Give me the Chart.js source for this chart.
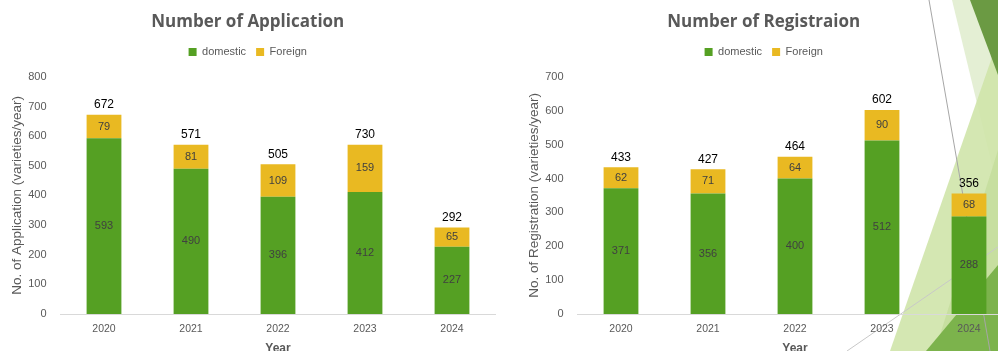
<!DOCTYPE html>
<html>
<head>
<meta charset="utf-8">
<script src="https://cdn.jsdelivr.net/npm/chart.js@4.4.1/dist/chart.umd.min.js"></script>
<style>
  html, body { margin: 0; padding: 0; background: #fff; }
  #page { position: relative; width: 998px; height: 351px; overflow: hidden; }
  #deco { position: absolute; left: 0; top: 0; }
  #appChart { position: absolute; left: 0; top: 0; }
  #regChart { position: absolute; left: 515px; top: 0; }
</style>
</head>
<body>
<div id="page">
  <svg id="deco" width="998" height="351">
    <polygon points="952,0 998,0 998,190" fill="#e4efd4"/>
    <polygon points="998,40 998,351 890,351" fill="#cfe4aa" opacity="0.9"/>
    <polygon points="998,150 998,351 935,351" fill="#c2dc98" opacity="0.7"/>
    <polygon points="998,265 998,351 926,351" fill="#7cb34c"/>
    <polygon points="970,0 998,0 998,75" fill="#6b9a43"/>
    <line x1="929" y1="0" x2="990" y2="351" stroke="#a6a6a6" stroke-width="1"/>
    <line x1="847" y1="351" x2="998" y2="247" stroke="#c8c8c8" stroke-width="1"/>
  </svg>
  <canvas id="appChart" width="504" height="362"></canvas>
  <canvas id="regChart" width="506" height="362"></canvas>
</div>
<script>
const years = ['2020', '2021', '2022', '2023', '2024'];

const appDomestic = [593, 490, 396, 412, 227];
const appForeign = [79, 81, 109, 159, 65];
const appTotals = [672, 571, 505, 730, 292];

const regDomestic = [371, 356, 400, 512, 288];
const regForeign = [62, 71, 64, 90, 68];
const regTotals = [433, 427, 464, 602, 356];

const green = '#55a023';
const yellow = '#e9b922';
const gray = '#595959';
const font = '"Liberation Sans", Arial, sans-serif';

// value inside each segment + total above the stack
const barLabels = {
  id: 'barLabels',
  afterDatasetsDraw(chart, args, opts) {
    const ctx = chart.ctx;
    ctx.save();
    ctx.textAlign = 'center';
    ctx.textBaseline = 'middle';
    ctx.font = '11px ' + font;
    ctx.fillStyle = '#404040';
    chart.data.datasets.forEach((ds, i) => {
      chart.getDatasetMeta(i).data.forEach((bar, j) => {
        ctx.fillText(ds.data[j], bar.x, (bar.y + bar.base) / 2);
      });
    });
    const top = chart.getDatasetMeta(chart.data.datasets.length - 1);
    ctx.font = '12px ' + font;
    ctx.fillStyle = '#000';
    top.data.forEach((bar, j) => {
      ctx.fillText(opts.totals[j], bar.x, bar.y - 10);
    });
    ctx.restore();
  }
};

// extra room under the legend
const legendGap = {
  id: 'legendGap',
  beforeInit(chart) {
    const fit = chart.legend.fit;
    chart.legend.fit = function () {
      fit.call(this);
      this.height += 9.5;
    };
  }
};

function makeChart(id, title, yTitle, domestic, foreign, totals, yMax, yWidth, yTitlePad) {
  return new Chart(document.getElementById(id), {
    type: 'bar',
    data: {
      labels: years,
      datasets: [
        { label: 'domestic', data: domestic, backgroundColor: green },
        { label: 'Foreign', data: foreign, backgroundColor: yellow }
      ]
    },
    options: {
      responsive: false,
      animation: false,
      layout: { padding: { left: 0, right: 8.5, top: 0, bottom: 0 } },
      datasets: { bar: { barPercentage: 0.4, categoryPercentage: 1 } },
      plugins: {
        title: {
          display: true,
          text: title,
          color: gray,
          font: { family: '"Open Sans", sans-serif', size: 17, weight: 'bold' },
          padding: { top: 12, bottom: 4 }
        },
        legend: {
          position: 'top',
          labels: {
            boxWidth: 8,
            boxHeight: 8,
            padding: 10,
            color: gray,
            font: { family: font, size: 11 }
          }
        },
        tooltip: { enabled: false },
        barLabels: { totals: totals }
      },
      scales: {
        x: {
          stacked: true,
          grid: { display: false, drawTicks: false },
          border: { display: true, color: '#d9d9d9', width: 1 },
          ticks: { color: gray, font: { family: font, size: 10.5 }, padding: 9 },
          title: {
            display: true,
            text: 'Year',
            color: gray,
            font: { family: font, size: 12, weight: 'bold' },
            padding: { top: 0, bottom: 6 }
          },
          afterFit(s) { s.height = 48; }
        },
        y: {
          stacked: true,
          min: 0,
          max: yMax,
          grid: { display: false, drawTicks: false },
          border: { display: false },
          ticks: { stepSize: 100, color: gray, font: { family: font, size: 11 }, padding: 14 },
          title: {
            display: true,
            text: yTitle,
            color: gray,
            font: { family: font, size: 13.5 },
            padding: { top: yTitlePad, bottom: 0 }
          },
          afterFit(s) { s.width = yWidth; }
        }
      }
    },
    plugins: [barLabels, legendGap]
  });
}

makeChart('appChart', 'Number of Application', 'No. of Application (varieties/year)',
  appDomestic, appForeign, appTotals, 800, 60.5, 9.5);
makeChart('regChart', 'Number of Registraion', 'No. of Registration (varieties/year)',
  regDomestic, regForeign, regTotals, 700, 62.5, 11);
</script>
</body>
</html>
